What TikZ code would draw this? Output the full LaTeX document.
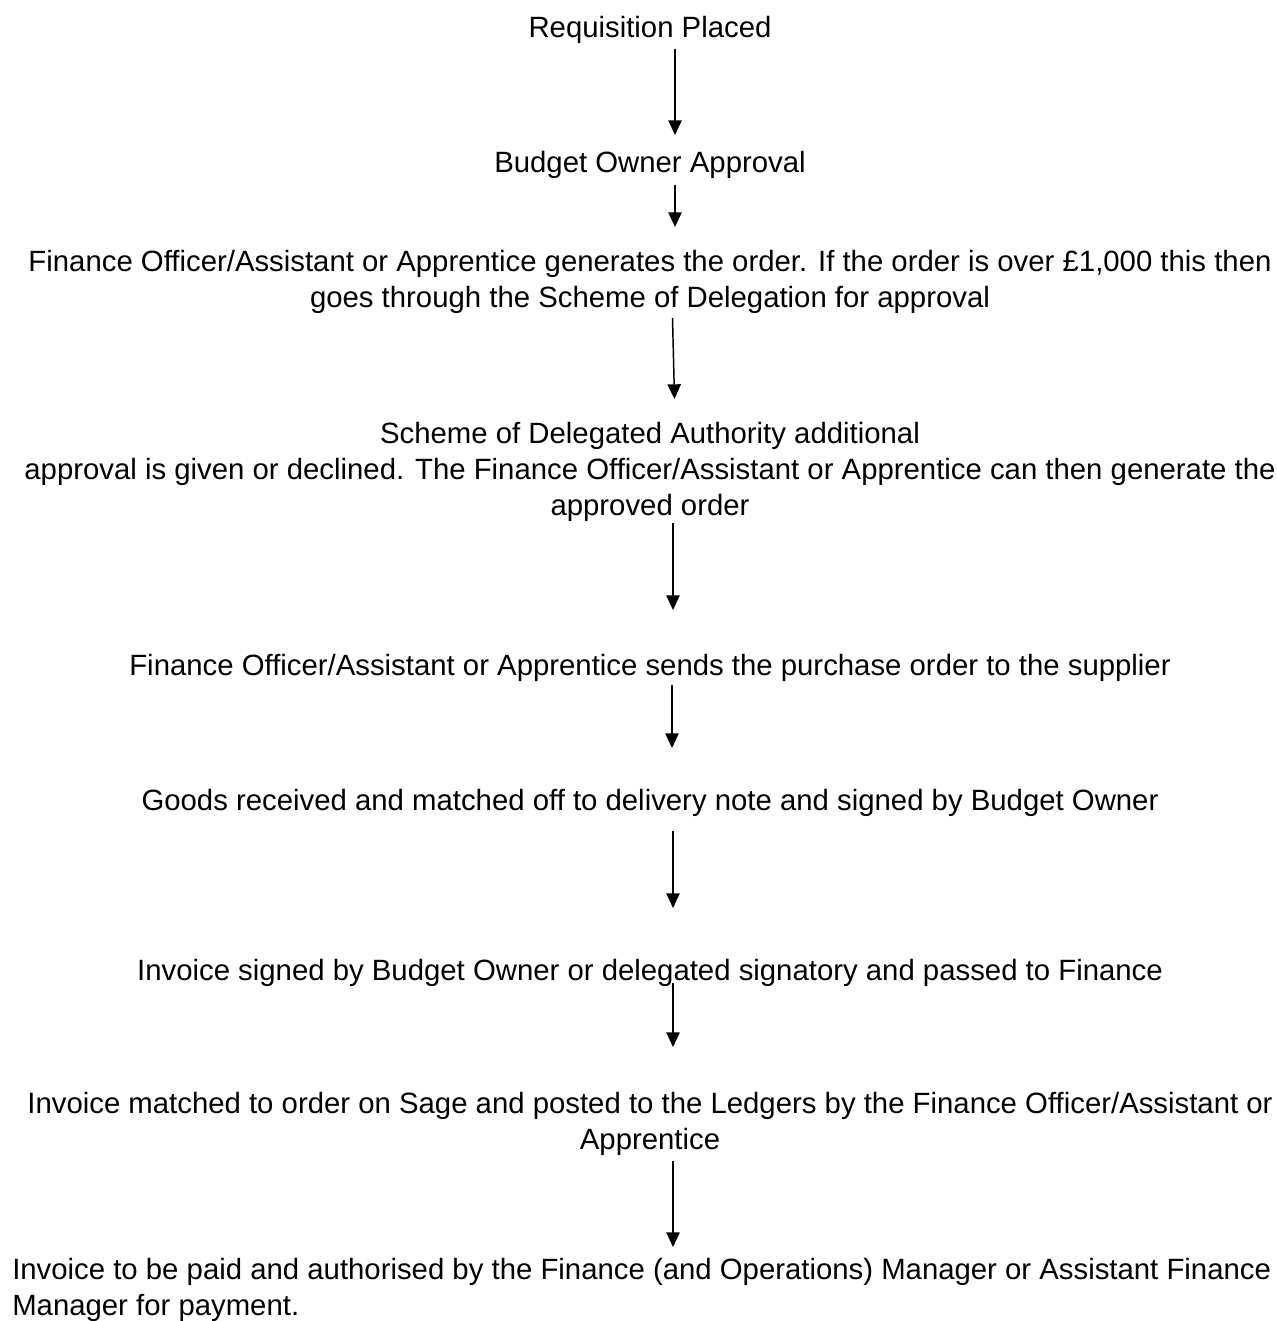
\documentclass[tikz,border=0pt]{standalone}
\usepackage{fontspec}
\setmainfont{Liberation Sans}
\usetikzlibrary{arrows.meta}
\newcommand{\myst}{\rule{0pt}{17pt}}
\begin{document}
\begin{tikzpicture}[x=0.75pt,y=-0.75pt,
  txt/.style={anchor=north, inner sep=0pt, yshift=17pt, align=center,
    font=\fontsize{22}{27}\selectfont},
  txtl/.style={txt, anchor=north west, align=left},
  arr/.style={line width=1.1pt, -{Triangle[length=11pt,width=10pt]}}]
\useasboundingbox (0,0) rectangle (1277,1321);
\node[txt] (req) at (650,37) {\myst Requisition Placed};
\node[txt] (bud) at (650,172) {\myst Budget Owner Approval};
\node[txt] (gen) at (650,271) {\myst Finance Officer/Assistant or Apprentice generates the order. If the order is over £1,000 this then\\goes through the Scheme of Delegation for approval};
\node[txt] (sch) at (650,443) {\myst Scheme of Delegated Authority additional\\approval is given or declined. The Finance Officer/Assistant or Apprentice can then generate the\\approved order};
\node[txt] (snd) at (650,675) {\myst Finance Officer/Assistant or Apprentice sends the purchase order to the supplier};
\node[txt] (gds) at (650,810) {\myst Goods received and matched off to delivery note and signed by Budget Owner};
\node[txt] (sig) at (650,980) {\myst Invoice signed by Budget Owner or delegated signatory and passed to Finance};
\node[txt] (mat) at (650,1113) {\myst Invoice matched to order on Sage and posted to the Ledgers by the Finance Officer/Assistant or\\Apprentice};
\node[txtl] (pay) at (12,1279) {\myst Invoice to be paid and authorised by the Finance (and Operations) Manager or Assistant Finance\\Manager for payment.};
\coordinate (a1s) at (675,49);   \coordinate (a1e) at (675,135);
\coordinate (a2s) at (675,185);  \coordinate (a2e) at (675,227);
\coordinate (a3s) at (672.5,318);\coordinate (a3e) at (674.5,399);
\coordinate (a4s) at (673,523);  \coordinate (a4e) at (673,610);
\coordinate (a5s) at (672,685);  \coordinate (a5e) at (672,748);
\coordinate (a6s) at (673,831);  \coordinate (a6e) at (673,908);
\coordinate (a7s) at (673,983);  \coordinate (a7e) at (673,1047);
\coordinate (a8s) at (673,1161); \coordinate (a8e) at (673,1247);
\draw[arr] (a1s) -- (a1e);
\draw[arr] (a2s) -- (a2e);
\draw[arr] (a3s) -- (a3e);
\draw[arr] (a4s) -- (a4e);
\draw[arr] (a5s) -- (a5e);
\draw[arr] (a6s) -- (a6e);
\draw[arr] (a7s) -- (a7e);
\draw[arr] (a8s) -- (a8e);
\end{tikzpicture}
\end{document}
